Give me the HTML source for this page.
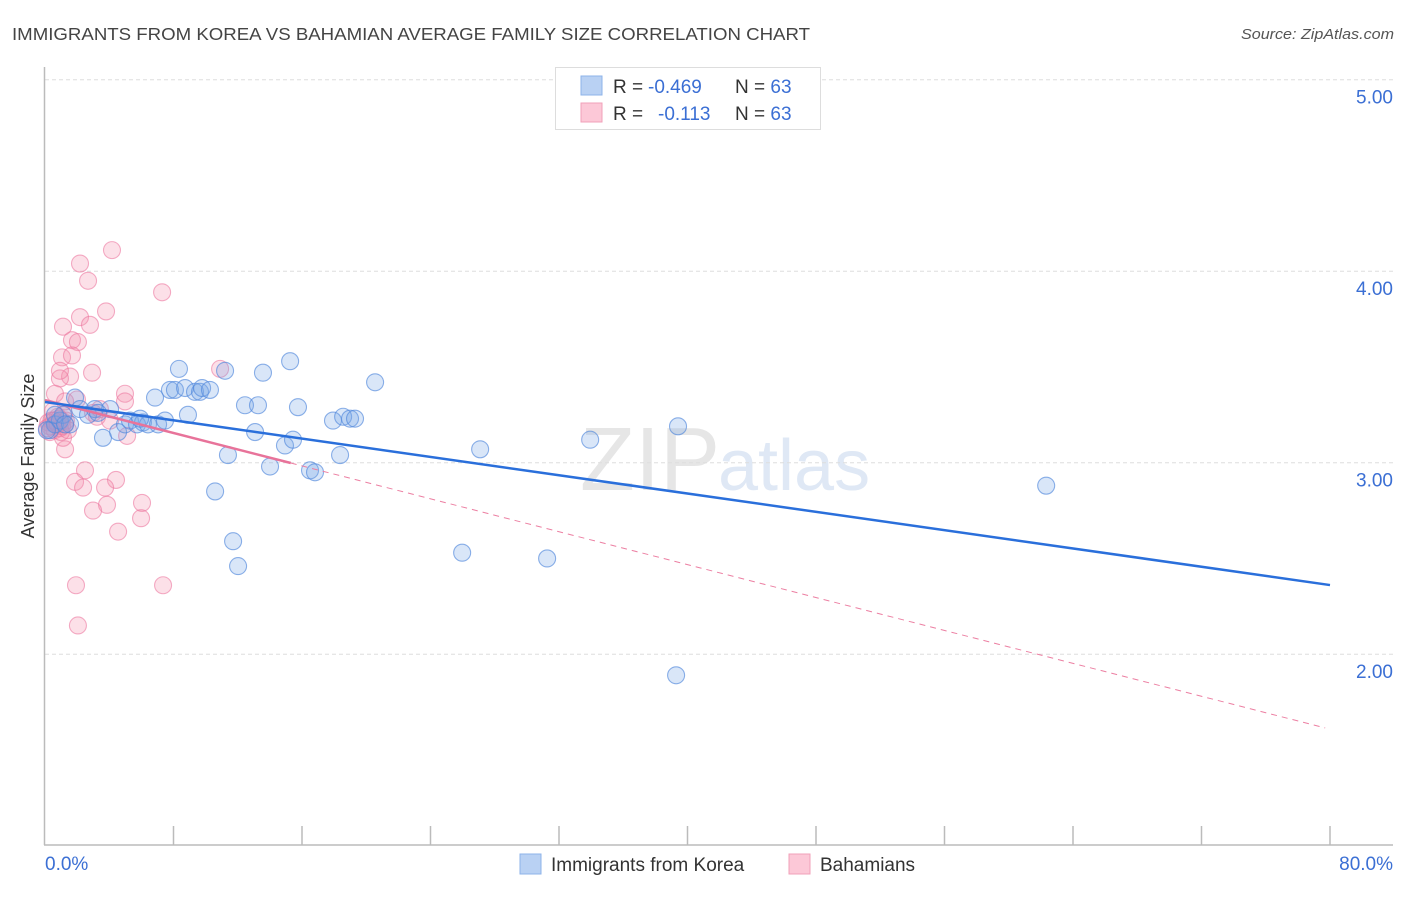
<!DOCTYPE html>
<html><head><meta charset="utf-8"><style>
body{margin:0;background:#fff;font-family:"Liberation Sans",sans-serif;}
svg text{font-family:"Liberation Sans",sans-serif;}
</style></head><body>
<svg id="chart" width="1406" height="892" xmlns="http://www.w3.org/2000/svg">
<text x="12" y="40" font-size="17.5" fill="#444" textLength="798" lengthAdjust="spacingAndGlyphs">IMMIGRANTS FROM KOREA VS BAHAMIAN AVERAGE FAMILY SIZE CORRELATION CHART</text>
<text x="1241" y="39" font-size="15" fill="#555" font-style="italic" textLength="153" lengthAdjust="spacingAndGlyphs">Source: ZipAtlas.com</text>
<text x="720" y="490" font-size="90" fill="#e6e6e6" text-anchor="end" font-family="Liberation Serif">ZIP</text>
<text x="718" y="490" font-size="72" fill="#dfe8f5">atlas</text>
<g id="grid"></g>
<g id="axes"></g>
<g id="pinkPts"></g>
<g id="bluePts"></g>
<g id="lines"></g>
<text transform="translate(34,456) rotate(-90)" font-size="18" fill="#333" text-anchor="middle">Average Family Size</text>
<g>
<rect x="555.5" y="67.5" width="265" height="62" fill="#fff" stroke="#ddd"/>
<rect x="581" y="76" width="21" height="19" fill="#b9d1f3" stroke="#8db3ea"/>
<rect x="581" y="103" width="21" height="19" fill="#fcc8d7" stroke="#f1a0b9"/>
<text x="613" y="93" font-size="19" fill="#333">R = <tspan x="648" fill="#3b6fd4">-0.469</tspan><tspan x="735">N = </tspan><tspan fill="#3b6fd4">63</tspan></text>
<text x="613" y="120" font-size="19" fill="#333">R = <tspan x="658" fill="#3b6fd4">-0.113</tspan><tspan x="735">N = </tspan><tspan fill="#3b6fd4">63</tspan></text>
</g>
<g>
<rect x="520" y="854" width="21" height="20" fill="#b9d1f3" stroke="#8db3ea"/>
<text x="551" y="871" font-size="19" fill="#333">Immigrants from Korea</text>
<rect x="789" y="854" width="21" height="20" fill="#fcc8d7" stroke="#f1a0b9"/>
<text x="820" y="871" font-size="19" fill="#333">Bahamians</text>
</g>
</svg>
<script>
const yTicks=[5,4,3,2];
const yTickLabels=["5.00","4.00","3.00","2.00"];
const xTickLabels=["0.0%","80.0%"];
const blueX=[0.31,0.62,0.93,1.12,1.56,1.87,2.18,2.68,3.11,3.61,4.05,4.55,4.98,5.29,5.73,6.10,6.41,6.85,7.04,7.47,7.78,8.09,8.34,8.72,8.90,9.34,9.65,9.78,10.27,10.59,11.21,11.39,11.71,12.02,12.45,13.08,13.26,13.57,14.01,14.94,15.26,15.44,15.75,16.50,16.81,17.93,18.37,18.56,18.99,19.30,20.55,25.97,27.09,31.26,33.94,39.29,39.41,62.33,0.62,1.25,3.30,5.92,0.12];
const blueY=[3.17,3.20,3.22,3.25,3.20,3.34,3.28,3.25,3.28,3.13,3.28,3.16,3.20,3.22,3.20,3.21,3.20,3.34,3.20,3.22,3.38,3.38,3.49,3.39,3.25,3.37,3.37,3.39,3.38,2.85,3.48,3.04,2.59,2.46,3.30,3.16,3.30,3.47,2.98,3.09,3.53,3.12,3.29,2.96,2.95,3.22,3.04,3.24,3.23,3.23,3.42,2.53,3.07,2.50,3.12,1.89,3.19,2.88,3.25,3.20,3.26,3.23,3.17];
const pinkX=[4.17,2.18,2.68,7.29,3.80,1.12,2.18,2.80,1.68,2.05,1.06,1.68,2.93,1.56,0.93,10.90,4.98,4.98,0.62,1.99,2.99,1.25,1.12,2.49,1.87,2.37,4.42,3.74,3.86,2.99,6.04,5.98,4.55,1.93,7.35,2.05,5.11,3.24,0.2,0.3,0.4,0.6,0.75,0.8,0.93,1.05,1.25,0.3,0.5,0.68,0.87,1.0,1.18,0.12,0.56,0.8,1.06,1.3,1.43,3.42,4.05,0.93,1.25];
const pinkY=[4.11,4.04,3.95,3.89,3.79,3.71,3.76,3.72,3.64,3.63,3.55,3.56,3.47,3.45,3.44,3.49,3.36,3.32,3.36,3.33,3.26,3.07,3.13,2.96,2.90,2.87,2.91,2.87,2.78,2.75,2.79,2.71,2.64,2.36,2.36,2.15,3.14,3.24,3.21,3.19,3.22,3.17,3.21,3.24,3.18,3.22,3.20,3.16,3.27,3.20,3.23,3.16,3.25,3.18,3.22,3.20,3.19,3.22,3.17,3.28,3.22,3.48,3.32];
const blueTrend=[3.317,2.361];
const pinkTrend=[3.327,1.615];
const pinkSolidEnd=15.3;

const NS="http://www.w3.org/2000/svg";
const X=v=>45+v*(1285/80);
const Y=v=>462.7-(v-3)*191.5;
function mk(tag,attrs,parent){const e=document.createElementNS(NS,tag);for(const k in attrs)e.setAttribute(k,attrs[k]);document.getElementById(parent).appendChild(e);return e;}

yTicks.forEach((t,i)=>{
  const l=mk('line',{x1:45,x2:1393,y1:Y(t),y2:Y(t),stroke:'#ddd','stroke-dasharray':'4,3'},'grid');
  
  
  const tx=mk('text',{x:1393,y:Y(t)+24,'font-size':19,fill:'#3b6fd4','text-anchor':'end'},'grid');
  tx.textContent=yTickLabels[i];
  
  
});
const ax=mk('line',{x1:44.5,x2:44.5,y1:67,y2:845,stroke:'#bbb','stroke-width':1.5},'axes');


const bx=mk('line',{x1:44,x2:1393,y1:845,y2:845,stroke:'#bbb','stroke-width':1.5},'axes');


for(let i=1;i<=10;i++){
  const t=mk('line',{x1:X(i*8),x2:X(i*8),y1:826,y2:845,stroke:'#bbb','stroke-width':1.5},'axes');
  
  
}
const xl0=mk('text',{x:45,y:870,'font-size':19,fill:'#3b6fd4'},'axes');
xl0.textContent=xTickLabels[0];


const xl1=mk('text',{x:1393,y:870,'font-size':19,fill:'#3b6fd4','text-anchor':'end'},'axes');
xl1.textContent=xTickLabels[1];



pinkX.forEach((v,i)=>{
  const c=mk('circle',{cx:X(v),cy:Y(pinkY[i]),r:8.5,fill:'rgba(244,143,173,0.28)',stroke:'rgba(236,120,160,0.6)','stroke-width':1.1},'pinkPts');
  
  
});
blueX.forEach((v,i)=>{
  const c=mk('circle',{cx:X(v),cy:Y(blueY[i]),r:8.5,fill:'rgba(120,165,230,0.28)',stroke:'rgba(80,135,220,0.65)','stroke-width':1.1},'bluePts');
  
  
});
const pAt=x=>pinkTrend[0]+(pinkTrend[1]-pinkTrend[0])*x/79.7;
const pd=mk('line',{x1:X(pinkSolidEnd),y1:Y(pAt(pinkSolidEnd)),x2:X(79.7),y2:Y(pinkTrend[1]),stroke:'#ec7fa2','stroke-width':1,'stroke-dasharray':'6,5'},'lines');


const ps=mk('line',{x1:X(0),y1:Y(pinkTrend[0]),x2:X(pinkSolidEnd),y2:Y(pAt(pinkSolidEnd)),stroke:'#e8739a','stroke-width':2.5},'lines');


const bl=mk('line',{x1:X(0),y1:Y(blueTrend[0]),x2:X(80),y2:Y(blueTrend[1]),stroke:'#2a6fdb','stroke-width':2.5},'lines');


</script>
</body></html>
